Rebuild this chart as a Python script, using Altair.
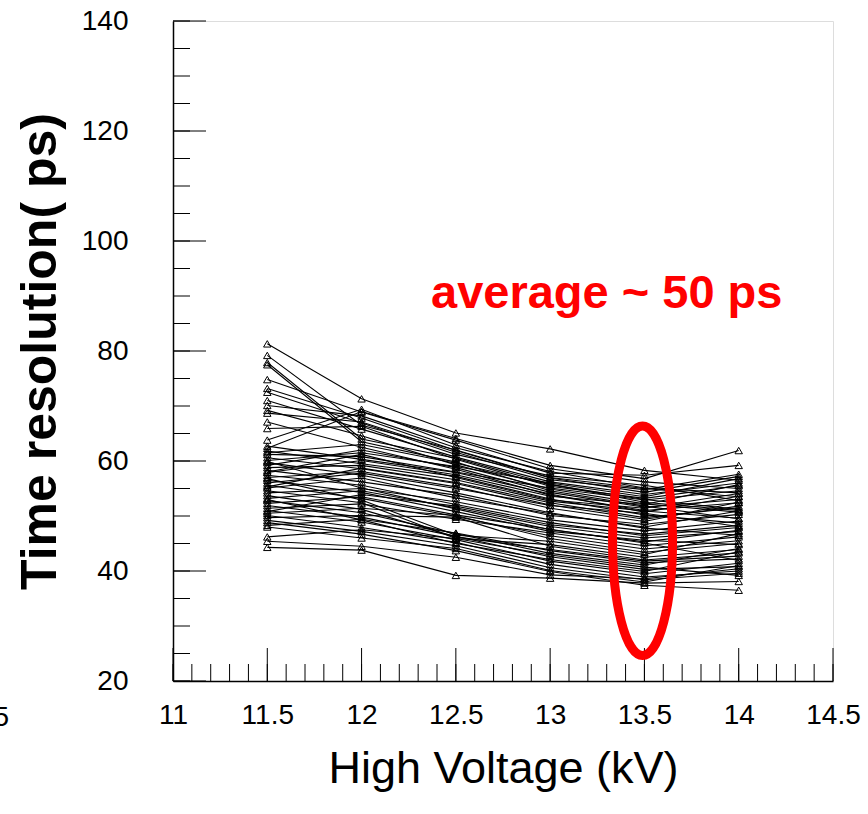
import altair as alt
import pandas as pd

# High voltage settings (kV)
hv = [11.5, 12.0, 12.5, 13.0, 13.5, 14.0]

# Time resolution (ps) per channel
res_high = [
    [81.3, 71.3, 65.1, 62.2, 58.3, 56.5],
    [79.2, 66.5, 62.0, 57.0, 55.0, 53.5],
    [77.9, 64.0, 60.5, 55.8, 52.5, 51.0],
    [77.5, 63.5, 59.8, 54.6, 51.8, 49.5],
    [74.8, 68.9, 63.8, 58.6, 56.2, 55.0],
    [73.2, 67.8, 61.9, 56.9, 54.3, 57.2],
    [72.5, 66.9, 61.2, 57.3, 55.6, 52.8],
    [71.0, 65.8, 60.7, 56.2, 53.9, 56.0],
    [70.1, 68.2, 62.4, 58.1, 55.1, 54.2],
    [69.2, 64.6, 59.3, 54.9, 52.2, 50.7],
    [68.7, 67.1, 61.6, 56.6, 54.8, 57.6],
    [67.1, 62.5, 58.5, 53.8, 51.0, 52.4],
    [65.9, 66.3, 60.3, 55.4, 53.2, 55.5],
    [63.8, 69.4, 62.9, 57.8, 57.4, 59.2],
]
res_mid = [
    [62.3, 69.0, 64.1, 59.2, 56.8, 61.9],
    [62.7, 60.3, 57.9, 54.0, 50.7, 53.6],
    [61.8, 59.5, 57.2, 53.1, 50.2, 48.7],
    [61.5, 63.0, 59.6, 55.7, 53.0, 51.2],
    [61.2, 60.8, 58.0, 55.1, 52.9, 54.6],
    [60.6, 58.6, 55.9, 52.0, 49.4, 51.8],
    [60.1, 61.5, 59.0, 56.0, 53.5, 56.8],
    [59.9, 55.1, 51.3, 47.5, 45.3, 47.4],
    [59.7, 57.4, 54.2, 50.6, 47.8, 46.5],
    [59.2, 62.0, 58.8, 54.3, 51.6, 53.0],
    [58.8, 59.2, 56.6, 52.7, 50.9, 49.6],
    [58.3, 56.2, 53.8, 50.1, 48.5, 50.3],
    [58.0, 61.2, 57.0, 52.9, 51.4, 54.1],
    [57.9, 60.1, 57.5, 53.6, 52.1, 55.7],
    [57.4, 55.6, 52.1, 48.8, 46.4, 47.9],
    [57.0, 58.1, 55.3, 51.4, 49.0, 52.5],
    [56.8, 52.9, 46.5, 45.4, 43.0, 46.8],
    [56.5, 54.3, 50.8, 47.2, 45.6, 44.8],
    [56.0, 57.8, 55.0, 51.9, 50.5, 48.1],
    [55.6, 53.2, 49.9, 46.4, 44.0, 45.5],
    [55.3, 58.7, 56.1, 52.4, 49.7, 51.5],
    [55.1, 56.9, 53.3, 50.4, 48.0, 50.9],
    [54.6, 52.4, 45.9, 44.8, 42.5, 43.9],
    [54.2, 55.0, 52.6, 49.3, 47.3, 49.1],
    [53.7, 51.2, 46.2, 43.9, 41.8, 42.7],
    [53.2, 54.6, 51.5, 48.1, 46.0, 47.2],
    [53.0, 49.3, 45.0, 42.1, 39.9, 43.5],
    [52.8, 50.6, 46.8, 43.2, 41.1, 44.1],
    [52.3, 53.5, 50.2, 47.6, 45.1, 41.9],
    [51.9, 49.8, 46.3, 42.6, 40.3, 40.8],
    [51.4, 52.2, 49.4, 46.9, 44.6, 46.2],
    [51.0, 48.9, 45.7, 41.8, 39.5, 41.4],
    [50.8, 53.9, 51.8, 48.4, 46.7, 48.3],
    [50.5, 51.4, 50.1, 45.9, 43.4, 45.0],
    [50.1, 47.9, 45.2, 41.2, 38.9, 40.0],
    [49.7, 50.1, 49.8, 44.5, 42.0, 43.3],
    [49.2, 47.2, 44.6, 40.6, 38.4, 39.6],
    [48.8, 46.7, 43.7, 39.9, 37.4, 36.5],
    [48.3, 49.4, 46.9, 43.7, 41.5, 42.2],
    [48.0, 46.0, 44.1, 40.1, 38.0, 41.0],
]
res_low = [
    [46.2, 47.5, 45.9, 42.9, 40.7, 39.2],
    [45.4, 44.5, 42.5, 39.3, 38.6, 40.4],
    [44.3, 43.8, 39.2, 38.7, 37.8, 38.1],
]

# Axis tick positions (ROOT style, drawn inward)
x_major = [11.0, 11.5, 12.0, 12.5, 13.0, 13.5, 14.0, 14.5]
x_minor = [round(11.0 + 0.1 * i, 1) for i in range(36)]
y_major = [20, 40, 60, 80, 100, 120, 140]
y_minor = [20 + 5 * i for i in range(25)]

# Annotation
note_text = ["average ~ 50 ps"]
note_x = [13.3]
note_y = [90.4]
ring_x = [13.49]
ring_y = [45.5]

rows = []
sid = 0
for grp in (res_high, res_mid, res_low):
    for s in grp:
        for v, r in zip(hv, s):
            rows.append({"series": sid, "hv": v, "res": r})
        sid += 1
df = pd.DataFrame(rows)

FONT = "Liberation Sans"

xscale = alt.Scale(domain=[11, 14.5], nice=False, zero=False)
yscale = alt.Scale(domain=[20, 140], nice=False, zero=False)

xaxis = alt.Axis(
    values=x_major, format="~g", ticks=False, grid=False,
    labelFont=FONT, labelFontSize=28, labelColor="black", labelPadding=20,
    labelFlush=False, labelOverlap=False,
    domainColor="black", domainWidth=1.5,
    title="High Voltage (kV)", titleFont=FONT, titleFontSize=45,
    titleFontWeight="normal", titleColor="black", titlePadding=17,
)
yaxis = alt.Axis(
    values=y_major, ticks=False, grid=False,
    labelFont=FONT, labelFontSize=28, labelColor="black", labelPadding=45,
    labelFlush=False, labelOverlap=False,
    domainColor="black", domainWidth=1.5,
    title="Time resolution( ps)", titleFont=FONT, titleFontSize=50,
    titleFontWeight="bold", titleColor="black", titlePadding=16,
)

base = alt.Chart(df)
lines = base.mark_line(color="black", strokeWidth=1.1, clip=True).encode(
    x=alt.X("hv:Q", scale=xscale, axis=xaxis),
    y=alt.Y("res:Q", scale=yscale, axis=yaxis),
    detail="series:N",
)
points = base.mark_point(
    shape="triangle-up", filled=False, color="black", size=55, strokeWidth=1.0, opacity=1
).encode(x=alt.X("hv:Q", scale=xscale), y=alt.Y("res:Q", scale=yscale))

xmaj = alt.Chart(pd.DataFrame({"t": x_major})).mark_rule(color="black", strokeWidth=1).encode(
    x=alt.X("t:Q", scale=xscale), y=alt.value(660), y2=alt.value(627))
xmin = alt.Chart(pd.DataFrame({"t": x_minor})).mark_rule(color="black", strokeWidth=1).encode(
    x=alt.X("t:Q", scale=xscale), y=alt.value(660), y2=alt.value(643))
ymaj = alt.Chart(pd.DataFrame({"t": y_major})).mark_rule(color="black", strokeWidth=1).encode(
    y=alt.Y("t:Q", scale=yscale), x=alt.value(0), x2=alt.value(33))
ymin = alt.Chart(pd.DataFrame({"t": y_minor})).mark_rule(color="black", strokeWidth=1).encode(
    y=alt.Y("t:Q", scale=yscale), x=alt.value(0), x2=alt.value(17))

a = 0.2616
k = 0.5523
ellipse_path = (
    f"M 0,-1 C {k*a:.4f},-1 {a},{-k} {a},0 "
    f"C {a},{k} {k*a:.4f},1 0,1 "
    f"C {-k*a:.4f},1 {-a},{k} {-a},0 "
    f"C {-a},{-k} {-k*a:.4f},-1 0,-1 Z"
)
ring = alt.Chart(pd.DataFrame({"x": ring_x, "y": ring_y})).mark_point(
    shape=ellipse_path, filled=False, stroke="#ff0000", strokeWidth=9, size=52624, opacity=1
).encode(x=alt.X("x:Q", scale=xscale), y=alt.Y("y:Q", scale=yscale))

note = alt.Chart(pd.DataFrame({"x": note_x, "y": note_y, "t": note_text})).mark_text(
    font=FONT, fontSize=47, fontWeight="bold", color="#ff0000", align="center", baseline="middle"
).encode(x=alt.X("x:Q", scale=xscale), y=alt.Y("y:Q", scale=yscale), text="t:N")

stray = alt.Chart(pd.DataFrame({"t": ["5"]})).mark_text(
    font=FONT, fontSize=28, color="black", align="right", baseline="middle"
).encode(x=alt.value(-164), y=alt.value(697), text="t:N")

chart = alt.layer(lines, points, xmaj, xmin, ymaj, ymin, ring, note, stray).properties(
    width=660, height=660,
    autosize=alt.AutoSizeParams(type="none"),
    padding={"left": 173, "top": 21, "right": 35, "bottom": 133},
).configure_view(stroke="#555555", strokeWidth=1).configure(background="white")

chart.save("out.html", embed_options={"renderer": "svg", "actions": False})
